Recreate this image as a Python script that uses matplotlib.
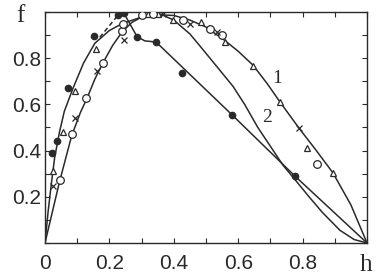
import matplotlib
matplotlib.use("Agg")
import matplotlib.pyplot as plt
from matplotlib.ticker import MultipleLocator, FixedLocator

# Curve 1 (outer left branch + outer right branch)
c1_h = [0, 0.01, 0.02, 0.03, 0.045, 0.06, 0.087, 0.12, 0.155, 0.2, 0.24, 0.3, 0.35, 0.4,
        0.45, 0.5, 0.56, 0.6, 0.646, 0.69, 0.73, 0.79, 0.84, 0.894, 0.95, 1.0]
c1_f = [0, 0.14, 0.26, 0.37, 0.48, 0.57, 0.67, 0.78, 0.865, 0.92, 0.95, 0.978, 0.988, 0.985,
        0.965, 0.935, 0.875, 0.83, 0.77, 0.69, 0.61, 0.495, 0.405, 0.304, 0.165, 0.0]

# Curve 2 (inner left branch + middle right branch)
c2_h = [0, 0.045, 0.083, 0.11, 0.13, 0.155, 0.18, 0.21, 0.24, 0.27, 0.3, 0.33, 0.36, 0.4,
        0.45, 0.48, 0.53, 0.584, 0.62, 0.661, 0.74, 0.776, 0.82, 0.863, 0.916, 0.96, 1.0]
c2_f = [0, 0.265, 0.465, 0.565, 0.625, 0.71, 0.78, 0.855, 0.915, 0.955, 0.978, 0.99, 0.99, 0.965,
        0.905, 0.855, 0.77, 0.678, 0.6, 0.5, 0.335, 0.275, 0.2, 0.13, 0.055, 0.015, 0.0]

# Dashed extension
dash_h = [0.17, 0.235]
dash_f = [0.89, 1.0]

# Line through filled dots (right part)
dl_h = [0.245, 0.286, 0.31, 0.345, 0.58, 0.776, 1.0]
dl_f = [0.995, 0.893, 0.875, 0.87, 0.556, 0.29, 0.0]

# Experimental points
dots_h = [0.022, 0.037, 0.071, 0.152, 0.227, 0.245, 0.286, 0.345, 0.425, 0.58, 0.776]
dots_f = [0.39, 0.443, 0.67, 0.896, 0.987, 0.995, 0.893, 0.87, 0.735, 0.556, 0.29]

tri_h = [0.024, 0.055, 0.093, 0.158, 0.32, 0.35, 0.397, 0.485, 0.56, 0.646, 0.73, 0.813, 0.894]
tri_f = [0.313, 0.48, 0.657, 0.84, 0.99, 0.99, 0.965, 0.957, 0.87, 0.765, 0.61, 0.413, 0.304]

circ_h = [0.047, 0.084, 0.127, 0.18, 0.24, 0.242, 0.30, 0.335, 0.43, 0.512, 0.55, 0.845]
circ_f = [0.274, 0.47, 0.626, 0.78, 0.917, 0.948, 0.987, 0.99, 0.965, 0.926, 0.9, 0.34]

cross_h = [0.024, 0.093, 0.16, 0.245, 0.366, 0.45, 0.534, 0.789]
cross_f = [0.248, 0.543, 0.745, 0.878, 0.99, 0.948, 0.913, 0.496]

xtick_vals = [0, 0.2, 0.4, 0.6, 0.8]
xtick_labels = ["0", "0.2", "0.4", "0.6", "0.8"]
ytick_vals = [0.2, 0.4, 0.6, 0.8]
ytick_labels = ["0.2", "0.4", "0.6", "0.8"]

col = "#2a2a2a"
fig = plt.figure(figsize=(3.76, 2.75), dpi=100)
ax = fig.add_axes([45/376, 32/275, 322/376, 231/275])
ax.set_xlim(0, 1.0)
ax.set_ylim(0, 1.0)

lw = 1.1
ax.plot(c1_h, c1_f, color=col, lw=lw)
ax.plot(c2_h, c2_f, color=col, lw=lw)
ax.plot(dash_h, dash_f, color=col, lw=lw, ls=(0, (3, 2)))
ax.plot(dl_h, dl_f, color=col, lw=lw)

ax.plot(dots_h, dots_f, "o", ms=4.5, color=col, mec=col, zorder=5)
ax.plot(tri_h, tri_f, "^", ms=5, mfc="white", mec=col, mew=0.9, zorder=5)
ax.plot(circ_h, circ_f, "o", ms=5.5, mfc="white", mec=col, mew=0.9, zorder=5)
ax.plot(cross_h, cross_f, "x", ms=4.5, mec=col, mew=0.9, zorder=5)

ax.text(0.72, 0.71, "1", fontsize=14, family="Liberation Serif", ha="center", va="center", color=col)
ax.text(0.69, 0.545, "2", fontsize=14, family="Liberation Serif", ha="center", va="center", color=col)

for s in ax.spines.values():
    s.set_color(col)
    s.set_linewidth(1.0)

ax.xaxis.set_major_locator(FixedLocator(xtick_vals))
ax.yaxis.set_major_locator(FixedLocator(ytick_vals))
ax.xaxis.set_minor_locator(MultipleLocator(0.1))
ax.yaxis.set_minor_locator(MultipleLocator(0.1))
ax.set_xticklabels(xtick_labels, family="Liberation Sans", fontsize=15)
ax.set_yticklabels(ytick_labels, family="Liberation Sans", fontsize=15)
ax.tick_params(which="both", direction="in", top=True, right=True, length=3.5, width=0.8, color=col, labelcolor=col)
ax.tick_params(axis="x", pad=8)
ax.tick_params(axis="y", pad=3)

fig.text(20/376, 1 - 16/275, "f", fontsize=18, family="Liberation Serif", ha="center", va="center", color=col)
fig.text(366/376, 1 - 265/275, "h", fontsize=18, family="Liberation Serif", ha="center", va="center", color=col)

fig.savefig("out.png", dpi=100)
